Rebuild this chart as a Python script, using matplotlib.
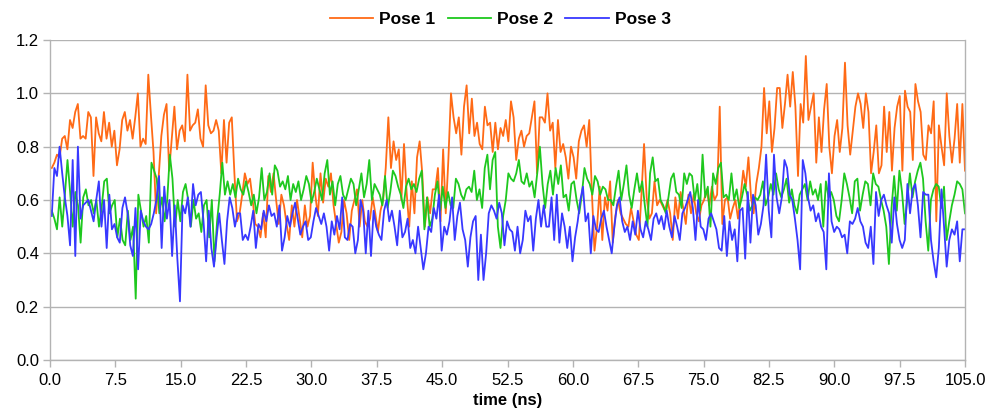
import numpy as np
import matplotlib
matplotlib.use("Agg")
import matplotlib.pyplot as plt

plt.rcParams['font.family'] = ['Liberation Sans', 'DejaVu Sans']

# values, ~0.3 ns apart
pose1 = [
    0.72, 0.74, 0.77, 0.76, 0.83, 0.84, 0.79, 0.90, 0.87, 0.93, 0.96, 0.83, 0.84, 0.83, 0.93, 0.91, 0.69, 0.91, 0.85, 0.82,
    0.93, 0.83, 0.89, 0.80, 0.86, 0.73, 0.79, 0.90, 0.93, 0.86, 0.90, 0.83, 0.91, 1.00, 0.80, 0.83, 0.81, 1.07, 0.92, 0.78,
    0.55, 0.69, 0.84, 0.92, 0.96, 0.71, 0.83, 0.95, 0.79, 0.86, 0.88, 0.82, 1.07, 0.86, 0.88, 0.89, 0.94, 0.83, 0.80, 1.03, 0.88,
    0.85, 0.86, 0.90, 0.86, 0.70, 0.90, 0.74, 0.89, 0.91, 0.70, 0.52, 0.55, 0.62, 0.70, 0.66, 0.68, 0.60, 0.51, 0.50, 0.46,
    0.55, 0.46, 0.69, 0.63, 0.70, 0.60, 0.51, 0.62, 0.58, 0.51, 0.45, 0.58, 0.50, 0.60, 0.53, 0.46, 0.58, 0.50, 0.54, 0.74,
    0.62, 0.54, 0.70, 0.59, 0.68, 0.65, 0.70, 0.58, 0.51, 0.44, 0.48, 0.60, 0.55, 0.45, 0.56, 0.60, 0.64, 0.50, 0.60, 0.52, 0.50,
    0.53, 0.61, 0.55, 0.48, 0.56, 0.60, 0.72, 0.91, 0.72, 0.82, 0.75, 0.79, 0.60, 0.81, 0.63, 0.50, 0.67, 0.55, 0.76, 0.82,
    0.70, 0.50, 0.61, 0.55, 0.64, 0.64, 0.72, 0.52, 0.79, 0.55, 0.75, 1.00, 0.91, 0.85, 0.91, 0.77, 0.95, 1.03, 0.85, 0.98,
    0.84, 0.89, 0.81, 0.79, 0.95, 0.88, 0.89, 0.78, 0.89, 0.79, 0.87, 0.84, 0.90, 0.82, 0.97, 0.91, 0.75, 0.83, 0.86, 0.80, 0.84,
    0.85, 0.91, 0.97, 0.70, 0.91, 0.91, 0.89, 1.00, 0.86, 0.89, 0.72, 0.90, 0.78, 0.81, 0.76, 0.68, 0.80, 0.76, 0.68, 0.82,
    0.86, 0.88, 0.80, 0.90, 0.63, 0.41, 0.50, 0.65, 0.45, 0.61, 0.56, 0.67, 0.44, 0.54, 0.60, 0.55, 0.53, 0.51, 0.50, 0.57,
    0.52, 0.47, 0.45, 0.62, 0.81, 0.61, 0.53, 0.55, 0.67, 0.58, 0.60, 0.58, 0.56, 0.60, 0.55, 0.45, 0.61, 0.53, 0.63, 0.57, 0.51, 0.62,
    0.55, 0.62, 0.55, 0.52, 0.58, 0.60, 0.64, 0.58, 0.65, 0.60, 0.62, 0.95, 0.51, 0.60, 0.61, 0.53, 0.57, 0.60, 0.53, 0.61,
    0.71, 0.65, 0.76, 0.61, 0.55, 0.66, 0.72, 0.80, 1.02, 0.85, 0.97, 0.78, 0.87, 1.02, 1.02, 0.87, 0.96, 1.07, 0.95, 1.08,
    0.95, 0.69, 0.96, 0.89, 1.14, 0.90, 0.95, 1.00, 0.74, 0.91, 0.78, 0.94, 1.035, 0.80, 0.70, 0.84, 0.90, 0.78, 0.87, 1.115, 0.88, 0.77,
    0.86, 0.95, 1.00, 0.96, 0.87, 1.00, 0.93, 0.70, 0.78, 0.88, 0.70, 0.73, 0.95, 0.78, 0.93, 0.71, 0.87, 0.95, 0.99, 0.71,
    1.01, 0.95, 0.93, 0.75, 1.035, 0.97, 0.93, 0.77, 0.75, 0.88, 0.85, 0.97, 0.52, 0.88, 0.80, 0.73, 1.00, 0.84, 0.74, 0.83,
    0.96, 0.74, 0.96, 0.71,
]
pose2 = [
    0.56, 0.53, 0.49, 0.61, 0.50, 0.62, 0.75, 0.63, 0.50, 0.63, 0.58, 0.44, 0.61, 0.64, 0.58, 0.60, 0.55, 0.60, 0.50, 0.57,
    0.67, 0.68, 0.55, 0.58, 0.60, 0.46, 0.53, 0.45, 0.43, 0.56, 0.45, 0.50, 0.23, 0.62, 0.56, 0.50, 0.54, 0.44, 0.74, 0.71,
    0.68, 0.55, 0.61, 0.52, 0.60, 0.77, 0.68, 0.50, 0.60, 0.52, 0.63, 0.66, 0.60, 0.50, 0.60, 0.53, 0.55, 0.48, 0.58, 0.60, 0.46,
    0.60, 0.37, 0.52, 0.62, 0.74, 0.62, 0.67, 0.62, 0.66, 0.61, 0.68, 0.64, 0.62, 0.67, 0.63, 0.58, 0.62, 0.55, 0.61, 0.72,
    0.60, 0.63, 0.70, 0.62, 0.73, 0.71, 0.65, 0.67, 0.64, 0.69, 0.60, 0.66, 0.63, 0.67, 0.60, 0.64, 0.69, 0.66, 0.59, 0.63,
    0.68, 0.64, 0.60, 0.70, 0.75, 0.62, 0.67, 0.58, 0.66, 0.69, 0.62, 0.60, 0.64, 0.68, 0.66, 0.58, 0.64, 0.70, 0.61, 0.66, 0.75,
    0.60, 0.66, 0.64, 0.62, 0.58, 0.69, 0.57, 0.63, 0.71, 0.69, 0.65, 0.62, 0.57, 0.65, 0.68, 0.64, 0.66, 0.63, 0.68, 0.71,
    0.49, 0.61, 0.50, 0.53, 0.62, 0.67, 0.56, 0.65, 0.57, 0.63, 0.58, 0.57, 0.68, 0.66, 0.62, 0.60, 0.64, 0.65, 0.63, 0.71,
    0.60, 0.64, 0.57, 0.72, 0.77, 0.64, 0.75, 0.78, 0.50, 0.42, 0.54, 0.60, 0.70, 0.68, 0.67, 0.70, 0.75, 0.67, 0.66, 0.70, 0.65,
    0.67, 0.61, 0.70, 0.80, 0.66, 0.57, 0.66, 0.71, 0.62, 0.72, 0.66, 0.73, 0.61, 0.62, 0.56, 0.66, 0.67, 0.60, 0.55, 0.62,
    0.72, 0.68, 0.66, 0.62, 0.69, 0.67, 0.62, 0.65, 0.64, 0.60, 0.60, 0.58, 0.65, 0.71, 0.60, 0.66, 0.73, 0.62, 0.57, 0.64,
    0.70, 0.63, 0.67, 0.58, 0.50, 0.70, 0.76, 0.67, 0.68, 0.60, 0.58, 0.55, 0.61, 0.68, 0.70, 0.63, 0.62, 0.57, 0.70, 0.66, 0.70,
    0.69, 0.60, 0.66, 0.56, 0.77, 0.61, 0.65, 0.50, 0.70, 0.66, 0.72, 0.74, 0.61, 0.62, 0.60, 0.70, 0.60, 0.64, 0.57, 0.61,
    0.66, 0.62, 0.56, 0.58, 0.61, 0.60, 0.62, 0.67, 0.58, 0.61, 0.66, 0.62, 0.70, 0.64, 0.61, 0.64, 0.68, 0.59, 0.64, 0.58,
    0.55, 0.62, 0.64, 0.66, 0.60, 0.67, 0.62, 0.64, 0.60, 0.66, 0.50, 0.67, 0.61, 0.63, 0.60, 0.54, 0.52, 0.60, 0.70, 0.66, 0.61,
    0.55, 0.67, 0.68, 0.56, 0.62, 0.67, 0.66, 0.58, 0.70, 0.66, 0.65, 0.60, 0.56, 0.50, 0.36, 0.57, 0.69, 0.56, 0.71, 0.63,
    0.51, 0.60, 0.70, 0.61, 0.67, 0.71, 0.74, 0.68, 0.52, 0.41, 0.60, 0.64, 0.66, 0.65, 0.57, 0.65, 0.45, 0.52, 0.58, 0.62,
    0.67, 0.66, 0.64, 0.55,
]
pose3 = [
    0.54, 0.72, 0.69, 0.80, 0.70, 0.61, 0.54, 0.43, 0.75, 0.39, 0.80, 0.53, 0.58, 0.59, 0.60, 0.56, 0.52, 0.60, 0.67, 0.50,
    0.60, 0.42, 0.62, 0.49, 0.51, 0.46, 0.44, 0.57, 0.61, 0.55, 0.43, 0.39, 0.57, 0.34, 0.56, 0.52, 0.50, 0.49, 0.51, 0.55,
    0.60, 0.69, 0.42, 0.65, 0.53, 0.60, 0.39, 0.58, 0.38, 0.22, 0.58, 0.55, 0.61, 0.50, 0.66, 0.58, 0.62, 0.63, 0.52, 0.37, 0.56,
    0.42, 0.35, 0.46, 0.55, 0.45, 0.36, 0.52, 0.61, 0.57, 0.50, 0.55, 0.55, 0.45, 0.47, 0.45, 0.50, 0.56, 0.42, 0.51, 0.49,
    0.56, 0.52, 0.58, 0.54, 0.55, 0.50, 0.58, 0.41, 0.46, 0.54, 0.50, 0.55, 0.59, 0.53, 0.47, 0.50, 0.52, 0.45, 0.46, 0.52,
    0.57, 0.54, 0.51, 0.55, 0.50, 0.41, 0.52, 0.47, 0.54, 0.49, 0.61, 0.46, 0.45, 0.51, 0.50, 0.40, 0.45, 0.60, 0.56, 0.40, 0.56,
    0.39, 0.56, 0.50, 0.47, 0.45, 0.56, 0.60, 0.52, 0.56, 0.50, 0.43, 0.56, 0.46, 0.48, 0.53, 0.42, 0.45, 0.40, 0.50, 0.42,
    0.34, 0.40, 0.50, 0.48, 0.57, 0.53, 0.62, 0.41, 0.50, 0.47, 0.52, 0.61, 0.45, 0.54, 0.59, 0.49, 0.45, 0.35, 0.46, 0.52,
    0.54, 0.30, 0.47, 0.30, 0.40, 0.55, 0.58, 0.56, 0.53, 0.59, 0.55, 0.43, 0.52, 0.49, 0.48, 0.41, 0.50, 0.40, 0.45, 0.56, 0.52, 0.54,
    0.41, 0.53, 0.60, 0.50, 0.58, 0.50, 0.50, 0.61, 0.45, 0.62, 0.44, 0.55, 0.50, 0.42, 0.50, 0.37, 0.46, 0.52, 0.60, 0.65,
    0.52, 0.55, 0.40, 0.54, 0.49, 0.48, 0.53, 0.56, 0.50, 0.45, 0.40, 0.50, 0.58, 0.61, 0.52, 0.48, 0.50, 0.45, 0.52, 0.47,
    0.56, 0.49, 0.46, 0.52, 0.49, 0.45, 0.53, 0.55, 0.51, 0.54, 0.49, 0.56, 0.50, 0.46, 0.54, 0.50, 0.45, 0.55, 0.57, 0.60, 0.63,
    0.57, 0.45, 0.60, 0.50, 0.49, 0.45, 0.53, 0.55, 0.52, 0.49, 0.42, 0.41, 0.54, 0.39, 0.52, 0.45, 0.49, 0.37, 0.56, 0.57,
    0.38, 0.63, 0.44, 0.62, 0.58, 0.47, 0.51, 0.58, 0.77, 0.56, 0.46, 0.77, 0.61, 0.55, 0.61, 0.75, 0.72, 0.62, 0.60, 0.53,
    0.45, 0.34, 0.75, 0.70, 0.61, 0.56, 0.58, 0.52, 0.55, 0.50, 0.48, 0.34, 0.70, 0.52, 0.48, 0.50, 0.49, 0.46, 0.47, 0.40, 0.52,
    0.51, 0.53, 0.57, 0.52, 0.50, 0.44, 0.42, 0.50, 0.36, 0.63, 0.54, 0.60, 0.62, 0.58, 0.55, 0.44, 0.61, 0.51, 0.45, 0.42,
    0.45, 0.66, 0.55, 0.64, 0.66, 0.58, 0.46, 0.63, 0.62, 0.62, 0.45, 0.37, 0.31, 0.42, 0.64, 0.50, 0.35, 0.45, 0.49, 0.47,
    0.52, 0.37, 0.49, 0.49,
]
labels = ['Pose 1', 'Pose 2', 'Pose 3']
colors = ['#ff6a16', '#1ec81e', '#3838ff']
xticks = np.arange(0, 105.1, 7.5)
yticks = np.arange(0, 1.21, 0.2)

fig = plt.figure(figsize=(9.91, 4.19), dpi=100)
ax = fig.add_axes([50 / 991, 1 - 360 / 419, 915 / 991, 320 / 419])

for vals, lab, c in zip([pose1, pose2, pose3], labels, colors):
    t = np.linspace(0.2, 105, len(vals))
    ax.plot(t, vals, color=c, lw=1.3, label=lab)

grid = '#b3b3b3'
ax.set_xlim(0, 105)
ax.set_ylim(0, 1.2)
ax.set_xticks(xticks)
ax.set_xticklabels(['%.1f' % v for v in xticks])
ax.set_yticks(yticks)
ax.set_yticklabels(['%.1f' % v for v in yticks])
ax.yaxis.grid(True, color=grid, lw=1)
ax.set_axisbelow(True)
for s in ['left', 'bottom', 'right']:
    ax.spines[s].set_color(grid)
    ax.spines[s].set_linewidth(1)
ax.spines['top'].set_visible(False)
ax.tick_params(axis='both', colors=grid, labelcolor='black', labelsize=12, length=5, width=1)
ax.tick_params(axis='x', pad=4)
ax.tick_params(axis='y', pad=3)
ax.set_xlabel('time (ns)', fontsize=12, fontweight='bold', labelpad=4)

fig.legend(loc='upper center', bbox_to_anchor=(0.505, 1.01), ncol=3, frameon=False,
           prop={'size': 12.5, 'weight': 'bold'}, handlelength=2.5, handletextpad=0.35,
           columnspacing=0.7)

fig.savefig('out.png', dpi=100)
